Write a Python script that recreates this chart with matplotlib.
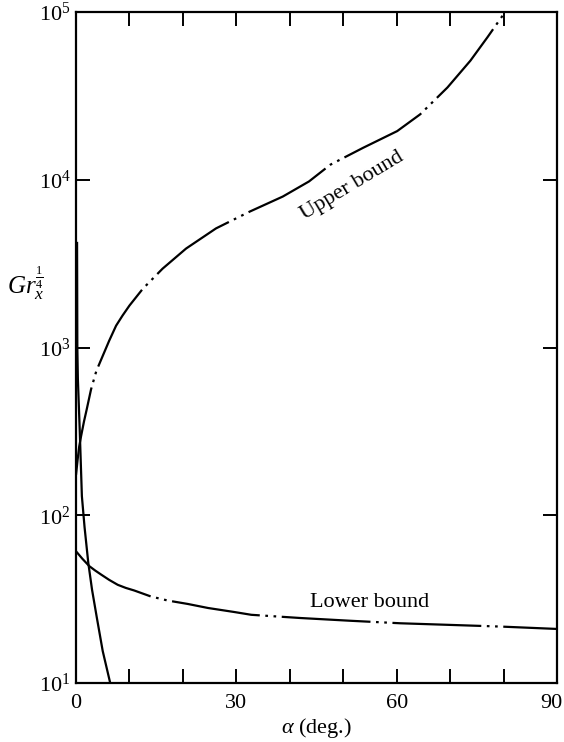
import matplotlib
matplotlib.use("Agg")
import matplotlib.pyplot as plt
import matplotlib.transforms as mtransforms

plt.rcParams['font.family'] = ['Liberation Serif', 'DejaVu Serif']
plt.rcParams['mathtext.fontset'] = 'custom'
plt.rcParams['mathtext.rm'] = 'Liberation Serif'
plt.rcParams['mathtext.it'] = 'Liberation Serif:italic'

# Upper bound curve (alpha in degrees, Gr_x^{1/4})
upper_alpha = [0, 0.3, 0.6, 0.94, 1.5, 2.0, 2.81, 3.8, 5.0, 6.2, 7.5, 8.7, 10.0, 12.5,
               16.2, 20.6, 26.2, 32.5, 38.7, 43.6, 47.6, 53.7, 60.1, 64.4, 69.5, 73.8,
               77.0, 80.3]
upper_gr = [174, 214, 257, 295, 363, 427, 562, 724, 891, 1096, 1349, 1549, 1778, 2239,
            2951, 3890, 5129, 6457, 7943, 9772, 12300, 15490, 19500, 24550, 35480, 51290,
            70790, 100000]

# Lower bound curve
lower_alpha = [0, 1.2, 2.5, 3.6, 4.7, 6.2, 7.8, 9.3, 10.9, 14.0, 17.2, 20.9, 24.7, 29.6,
               32.8, 42, 51.3, 60.7, 70, 79.4, 90]
lower_gr = [61, 55, 49.7, 46.8, 44.3, 41.2, 38.5, 36.9, 35.6, 32.8, 31.0, 29.6, 28.0,
            26.5, 25.5, 24.4, 23.5, 22.7, 22.2, 21.7, 21.0]

# Steep solid curve
steep_alpha = [0.2, 0.22, 0.25, 0.35, 0.7, 1.1, 1.6, 2.3, 3.0, 3.9, 5.0, 6.4]
steep_gr = [4200, 2500, 1000, 650, 320, 130, 85, 52, 36, 24.5, 15.5, 10]

xticks_major = [0, 30, 60, 90]
xticks_minor = [10, 20, 40, 50, 70, 80]
yticks = [10, 100, 1000, 10000, 100000]
ytick_labels = [r'$10^{1}$', r'$10^{2}$', r'$10^{3}$', r'$10^{4}$', r'$10^{5}$']

fig = plt.figure(figsize=(5.64, 7.42), dpi=100)
ax = fig.add_axes([76/564, 1-683/742, (557-76)/564, (683-12)/742])

dash = (0, (40, 2.5, 1.2, 2.5, 1.2, 2.5))
ax.plot(upper_alpha, upper_gr, color='black', lw=1.6, linestyle=dash)
ax.plot(lower_alpha, lower_gr, color='black', lw=1.6, linestyle=dash)
ax.plot(steep_alpha, steep_gr, color='black', lw=1.6, linestyle='-')

ax.set_yscale('log')
ax.set_xlim(0, 90)
ax.set_ylim(10, 100000)

ax.set_xticks(xticks_major)
ax.set_xticks(xticks_minor, minor=True)
ax.set_xticklabels([str(v) for v in xticks_major], fontsize=16)
ax.set_yticks(yticks)
ax.set_yticklabels(ytick_labels, fontsize=16)
ax.yaxis.set_minor_locator(matplotlib.ticker.NullLocator())

ax.tick_params(axis='both', which='both', direction='in', top=True, right=True,
               length=10, width=1.4, color='black')
ax.tick_params(axis='x', pad=8)
ax.tick_params(axis='y', pad=4)
for s in ax.spines.values():
    s.set_linewidth(1.6)

last = ax.get_xticklabels()[-1]
last.set_transform(last.get_transform() +
                   mtransforms.ScaledTranslation(-6/100, 0, fig.dpi_scale_trans))

ax.set_xlabel(r'$\alpha$ (deg.)', fontsize=16, labelpad=2)
fig.text(26/564, 1-283/742, r'$Gr_x^{\frac{1}{4}}$', fontsize=18, ha='center', va='center')

ax.text(51.6, 10**3.965, 'Upper bound', rotation=31, fontsize=16, ha='center', va='center',
        rotation_mode='anchor')
ax.text(55, 10**1.48, 'Lower bound', fontsize=16, ha='center', va='center')

fig.savefig('out.png', dpi=100)
